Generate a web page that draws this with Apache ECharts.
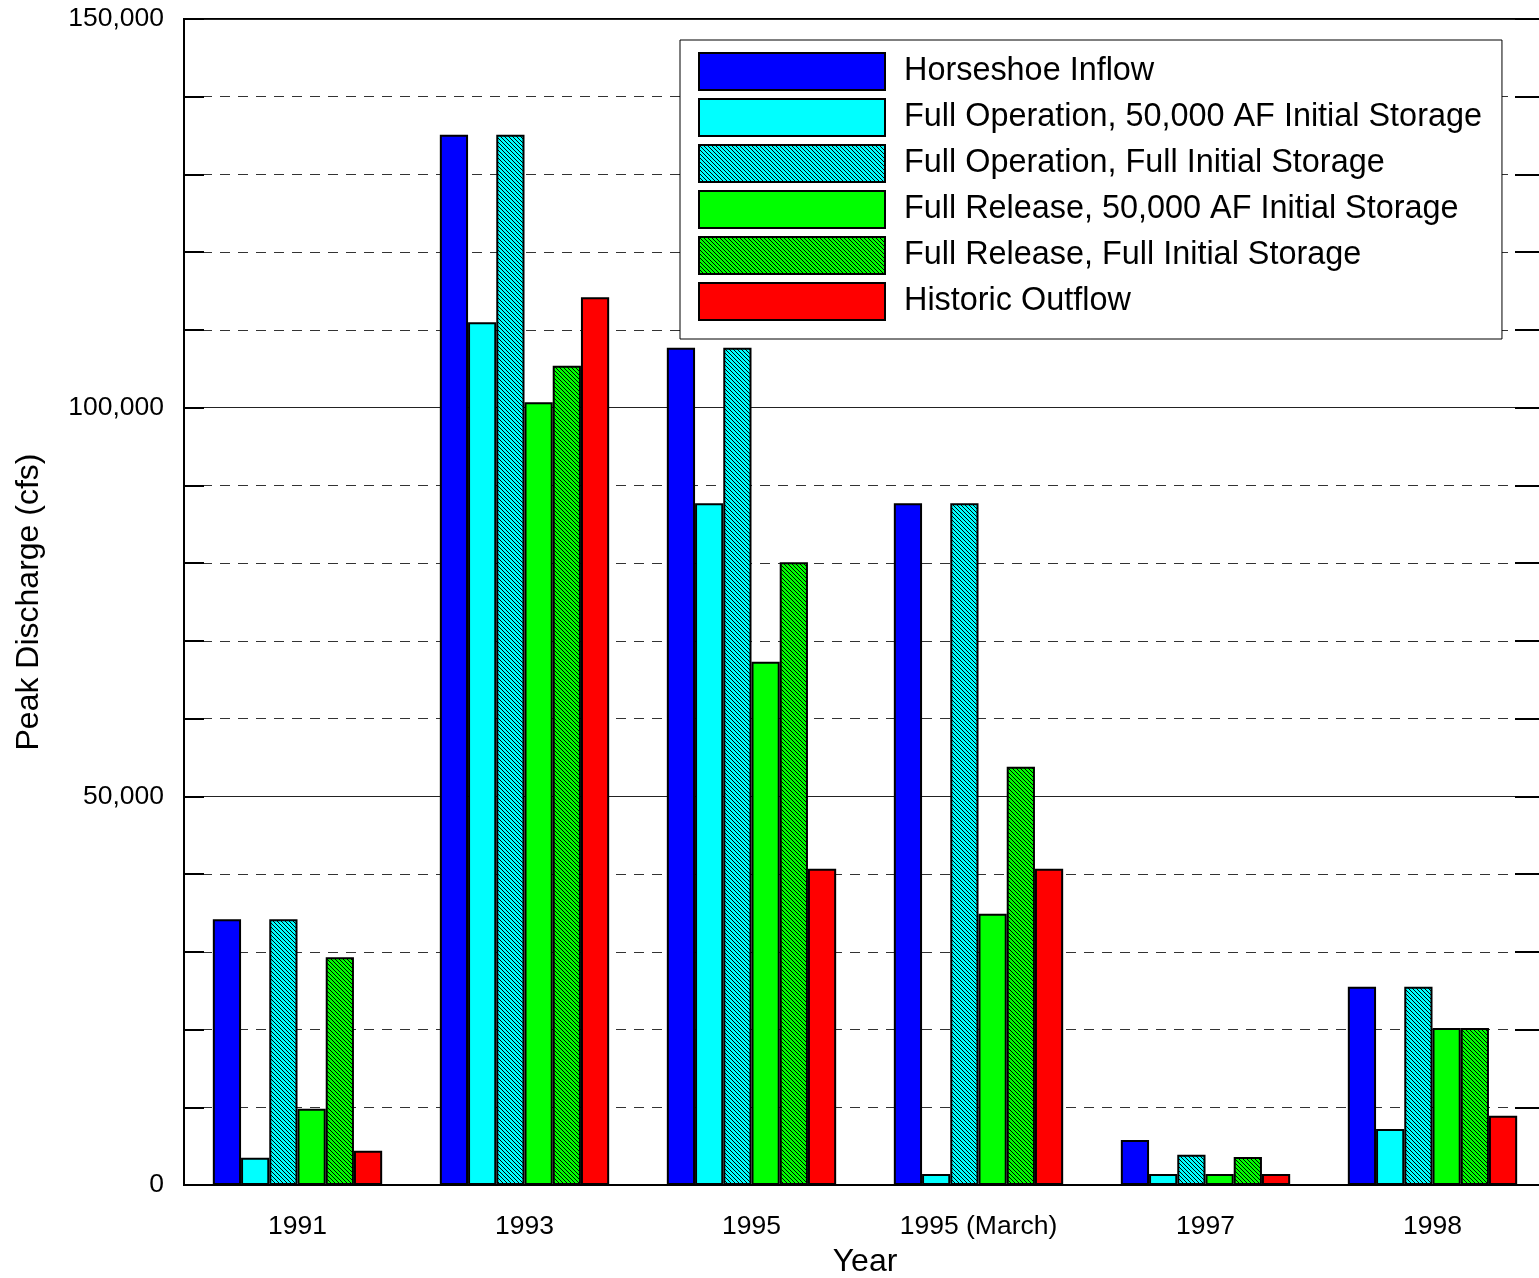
<!DOCTYPE html>
<html>
<head>
<meta charset="utf-8">
<script src="https://cdn.jsdelivr.net/npm/echarts@6/dist/echarts.min.js"></script>
<style>
  html, body { margin: 0; padding: 0; background: #fff; }
  #chart { width: 1539px; height: 1278px; }
</style>
</head>
<body>
<div id="chart"></div>
<script>
// Peak discharge by flood year for each operating scenario (cfs)
const years = ['1991', '1993', '1995', '1995 (March)', '1997', '1998'];
const seriesNames = [
  'Horseshoe Inflow',
  'Full Operation, 50,000 AF Initial Storage',
  'Full Operation, Full Initial Storage',
  'Full Release, 50,000 AF Initial Storage',
  'Full Release, Full Initial Storage',
  'Historic Outflow'
];
const horseshoeInflow     = [34200, 135100, 107700, 87700, 5800, 25500];
const fullOp50k           = [3500, 111000, 87700, 1400, 1400, 7200];
const fullOpFull          = [34200, 135100, 107700, 87700, 3900, 25500];
const fullRelease50k      = [9800, 100700, 67300, 34900, 1400, 20200];
const fullReleaseFull     = [29300, 105400, 80100, 53800, 3600, 20200];
const historicOutflow     = [4400, 114200, 40700, 40700, 1400, 8900];

const FONT = '"Liberation Sans", Arial, sans-serif';

// Diagonal hatch fill: solid base colour with 1px black "\" lines
function hatch(color) {
  const s = 4;
  const c = document.createElement('canvas');
  c.width = s; c.height = s;
  const g = c.getContext('2d');
  g.fillStyle = color;
  g.fillRect(0, 0, s, s);
  g.fillStyle = '#000';
  for (let i = 0; i < s; i++) g.fillRect(i, i, 1, 1);
  return { image: c, repeat: 'repeat' };
}

const fills = [
  '#0000FF',
  '#00FFFF',
  hatch('#00FFFF'),
  '#00FF00',
  hatch('#00FF00'),
  '#FF0000'
];
const values = [horseshoeInflow, fullOp50k, fullOpFull, fullRelease50k, fullReleaseFull, historicOutflow];

function thousands(v) {
  return String(v).replace(/\B(?=(\d{3})+(?!\d))/g, ',');
}

const chart = echarts.init(document.getElementById('chart'));
chart.setOption({
  animation: false,
  backgroundColor: '#fff',
  textStyle: { fontFamily: FONT },
  grid: {
    left: 184, top: 19, width: 1362, height: 1166,
    outerBoundsMode: 'none',
    containLabel: false,
    show: true, borderColor: '#000', borderWidth: 2, backgroundColor: 'transparent'
  },
  legend: {
    orient: 'vertical',
    left: 680, top: 40,
    padding: [11, 20, 17, 18],
    itemGap: 5,
    itemWidth: 186,
    itemHeight: 37,
    icon: 'rect',
    backgroundColor: '#fff',
    borderColor: '#000',
    borderWidth: 1,
    borderRadius: 0,
    textStyle: { fontSize: 32.4, lineHeight: 37, color: '#000', fontFamily: FONT, padding: [4, 0, 0, 14] },
    data: seriesNames
  },
  xAxis: {
    type: 'category',
    data: years,
    name: 'Year',
    nameLocation: 'middle',
    nameGap: 61,
    nameTextStyle: { fontSize: 32, color: '#000', fontFamily: FONT },
    axisLine: { lineStyle: { color: '#000', width: 2 } },
    axisTick: { show: false },
    axisLabel: { fontSize: 26.5, color: '#000', margin: 28, fontFamily: FONT },
    splitLine: { show: false }
  },
  yAxis: [
    {
      type: 'value', position: 'left',
      min: 0, max: 150000, interval: 10000,
      name: 'Peak Discharge (cfs)',
      nameLocation: 'middle',
      nameGap: 139,
      nameTextStyle: { fontSize: 32, color: '#000', fontFamily: FONT },
      axisLine: { show: true, lineStyle: { color: '#000', width: 2 } },
      axisTick: { show: true, inside: true, length: 20, lineStyle: { color: '#000', width: 2 } },
      axisLabel: {
        fontSize: 26.5, color: '#000', margin: 20, fontFamily: FONT,
        formatter: v => (v % 50000 === 0 ? thousands(v) : '')
      },
      splitLine: { show: true, lineStyle: { color: '#333', width: 1, type: [10, 8] } }
    },
    {
      type: 'value', position: 'left',
      min: 0, max: 150000, interval: 50000,
      axisLine: { show: false }, axisTick: { show: false }, axisLabel: { show: false },
      splitLine: { show: true, lineStyle: { color: '#222', width: 1, type: 'solid' } }
    },
    {
      type: 'value', position: 'right',
      min: 0, max: 150000, interval: 10000,
      axisLine: { show: true, lineStyle: { color: '#000', width: 2 } },
      axisTick: { show: true, inside: true, length: 31, lineStyle: { color: '#000', width: 2 } },
      axisLabel: { show: false },
      splitLine: { show: false }
    }
  ],
  series: seriesNames.map((name, i) => ({
    name,
    type: 'bar',
    yAxisIndex: 0,
    data: values[i],
    barGap: '0%',
    barCategoryGap: '25.4%',
    itemStyle: { color: fills[i], borderColor: '#000', borderWidth: 2 }
  }))
});
</script>
</body>
</html>
